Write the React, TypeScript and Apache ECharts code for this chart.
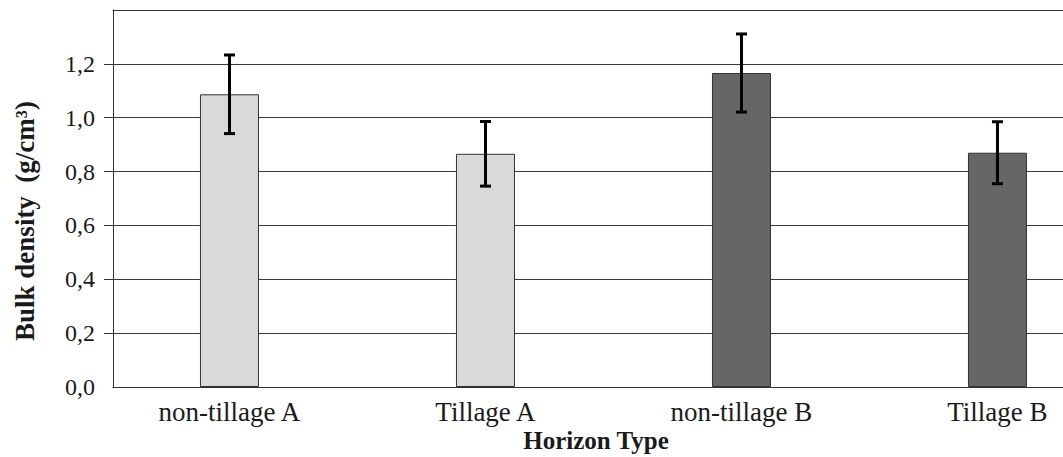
import React, { useEffect, useRef } from "react";
import * as echarts from "echarts";

const categories = ["non-tillage A", "Tillage A", "non-tillage B", "Tillage B"];
const means = [1.087, 0.866, 1.166, 0.87];
const errors = [0.146, 0.12, 0.145, 0.115];
const barColors = ["#d9d9d9", "#d9d9d9", "#666666", "#666666"];
const yTicks = [0, 0.2, 0.4, 0.6, 0.8, 1.0, 1.2];
const yStubTicks = [0.2, 0.4, 0.6, 0.8, 1.0, 1.2];
const xPositions = [0, 1, 2, 3];

const FONT = "'Liberation Serif', 'Times New Roman', serif";
const X_MIN = -0.455;
const X_MAX = 3.256;

export default function App() {
  const ref = useRef<HTMLDivElement>(null);

  useEffect(() => {
    document.body.style.margin = "0";
    const chart = echarts.init(ref.current!, null, { renderer: "svg" });
    const option: any = {
      animation: false,
      backgroundColor: "#ffffff",
      grid: { left: 113, right: 0, top: 10, bottom: 70, containLabel: false },
      xAxis: [
        {
          type: "value",
          min: X_MIN,
          max: X_MAX,
          axisLine: { show: true, onZero: false, lineStyle: { color: "#333333", width: 1 } },
          axisTick: { show: false },
          splitLine: { show: false },
          axisLabel: {
            customValues: xPositions,
            formatter: (v: number) => categories[Math.round(v)] ?? "",
            color: "#1a1a1a",
            fontFamily: FONT,
            fontSize: 27,
            margin: 11,
          },
        },
        {
          type: "value",
          position: "top",
          min: X_MIN,
          max: X_MAX,
          axisLine: { show: true, onZero: false, lineStyle: { color: "#333333", width: 1 } },
          axisTick: { show: false },
          splitLine: { show: false },
          axisLabel: { show: false },
        },
      ],
      yAxis: {
        type: "value",
        min: 0,
        max: 1.4,
        interval: 0.2,
        axisLine: { show: true, onZero: false, lineStyle: { color: "#333333", width: 1 } },
        axisTick: {
          show: true,
          customValues: yStubTicks,
          length: 9,
          lineStyle: { color: "#333333", width: 1 },
        },
        splitLine: { show: true, lineStyle: { color: "#3a3a3a", width: 1 } },
        axisLabel: {
          customValues: yTicks,
          formatter: (v: number) => v.toFixed(1).replace(".", ","),
          color: "#1a1a1a",
          fontFamily: FONT,
          fontSize: 24,
          margin: 18,
        },
      },
      series: [
        {
          type: "bar",
          barWidth: 59,
          xAxisIndex: 0,
          data: means.map((m, i) => ({
            value: [xPositions[i], m],
            itemStyle: { color: barColors[i], borderColor: "#333333", borderWidth: 1 },
          })),
          z: 2,
        },
        {
          type: "custom",
          xAxisIndex: 0,
          z: 3,
          data: means.map((m, i) => [xPositions[i], m - errors[i], m + errors[i]]),
          renderItem: (params: any, api: any) => {
            const x = api.value(0);
            const lo = api.coord([x, api.value(1)]);
            const hi = api.coord([x, api.value(2)]);
            const half = 5.5;
            const style = { stroke: "#000000", lineWidth: 3 };
            return {
              type: "group",
              children: [
                { type: "line", shape: { x1: lo[0], y1: lo[1], x2: hi[0], y2: hi[1] }, style },
                { type: "line", shape: { x1: hi[0] - half, y1: hi[1], x2: hi[0] + half, y2: hi[1] }, style },
                { type: "line", shape: { x1: lo[0] - half, y1: lo[1], x2: lo[0] + half, y2: lo[1] }, style },
              ],
            };
          },
        },
      ],
      graphic: [
        {
          type: "text",
          x: 25,
          y: 221,
          rotation: Math.PI / 2,
          style: {
            text: "Bulk density  (g/cm³)",
            fontFamily: FONT,
            fontWeight: "bold",
            fontSize: 27,
            fill: "#1a1a1a",
            align: "center",
            verticalAlign: "middle",
          },
        },
        {
          type: "text",
          x: 596,
          y: 440,
          style: {
            text: "Horizon Type",
            fontFamily: FONT,
            fontWeight: "bold",
            fontSize: 25,
            fill: "#1a1a1a",
            align: "center",
            verticalAlign: "middle",
          },
        },
      ],
    };
    chart.setOption(option);
    return () => chart.dispose();
  }, []);

  return <div ref={ref} style={{ width: 1063, height: 457 }} />;
}
